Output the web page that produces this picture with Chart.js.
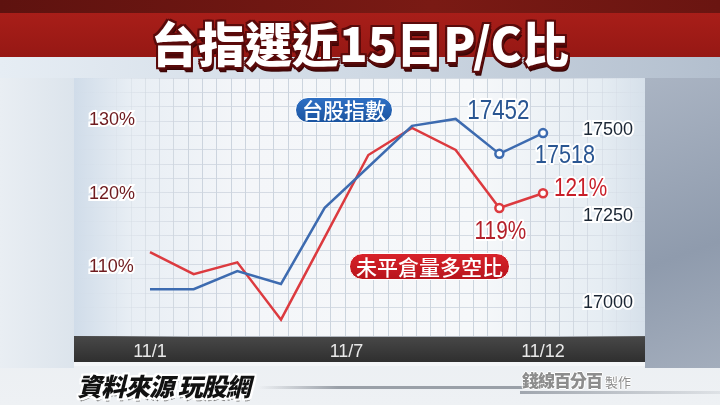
<!DOCTYPE html>
<html><head><meta charset="utf-8">
<script src="https://cdn.jsdelivr.net/npm/chart.js@4.4.1/dist/chart.umd.min.js"></script>
<style>
html,body{margin:0;padding:0;width:720px;height:405px;overflow:hidden;}
body{position:relative;background:linear-gradient(180deg,#dfe5ec 0%,#eef1f4 100%);font-family:"Noto Sans CJK TC",sans-serif;}
.abs{position:absolute;}
#topstrip{left:0;top:0;width:720px;height:14px;background:linear-gradient(90deg,#5e120f,#7a1a14 60%,#6a1511);}
#band{left:0;top:13px;width:720px;height:44px;background:linear-gradient(180deg,#a81e19,#961814);}
#sub{left:0;top:57px;width:720px;height:21px;background:linear-gradient(90deg,#e6edf4,#cfd9e4 50%,#b3bfce);}
#leftbg{left:0;top:78px;width:74px;height:290px;background:linear-gradient(90deg,#e9eef3,#dce4ec);}
#rightbg{left:645px;top:78px;width:75px;height:290px;background:linear-gradient(160deg,#aab4c3,#8f9bad 60%,#a3adbc);}
#panel{left:74px;top:78px;width:571px;height:258px;background:linear-gradient(90deg,#d0dce9 0%,#e8eef4 10%,#f4f6f9 30%,#f6f8fa 70%,#e6edf3 92%,#d6e0ea 100%);}
#xband{left:74px;top:336px;width:571px;height:26px;background:linear-gradient(180deg,#484848,#2f2f2f);}
#under{left:74px;top:362px;width:571px;height:4px;background:#f4f6f8;}
#line1{left:258px;top:386px;width:267px;height:3px;background:linear-gradient(90deg,rgba(150,156,164,0),#9aa0a8 30%,#9aa0a8);}
#line2{left:520px;top:391px;width:200px;height:3px;background:linear-gradient(90deg,#a0a6ae,rgba(160,166,174,0.2));}
canvas{position:absolute;left:0;top:0;}
#title{left:0;top:13px;width:720px;text-align:center;font-size:47px;font-weight:900;color:#fff;line-height:58px;letter-spacing:0px;
 text-shadow:-2px 0 #5a0b0b,2px 0 #5a0b0b,0 -2px #5a0b0b,0 2px #5a0b0b,-2px -2px #5a0b0b,2px -2px #5a0b0b,-2px 2px #5a0b0b,2px 2px #5a0b0b,1px 4px #4a0808,2px 5px #3a0606;}
.pill{position:absolute;color:#fff;text-align:center;border-radius:14px;border:1.5px solid #fff;box-sizing:border-box;font-weight:500;}
#pillB{left:295px;top:97px;width:98px;height:26px;line-height:23px;font-size:21px;background:linear-gradient(180deg,#2f70c4,#1a54a0);}
#pillR{left:349px;top:253px;width:161px;height:27px;line-height:24px;font-size:21px;background:linear-gradient(180deg,#d8222a,#b8141c);}
#src{left:77px;top:367px;font-size:25px;font-weight:900;font-style:italic;color:#111;letter-spacing:-1px;
 text-shadow:-2px 0 #fff,2px 0 #fff,0 -2px #fff,0 2px #fff,-2px -2px #fff,2px -2px #fff,-2px 2px #fff,2px 2px #fff,1px 3px #777;}
#logo{left:522px;top:367px;color:#8d8d8d;font-weight:900;font-size:17px;letter-spacing:-1px;
 text-shadow:-1px 0 #fff,1px 0 #fff,0 -1px #fff,0 1px #fff;}
#logo span{font-size:13px;font-weight:400;letter-spacing:0;margin-left:3px;}
</style></head>
<body>
<div id="topstrip" class="abs"></div>
<div id="band" class="abs"></div>
<div id="sub" class="abs"></div>
<div id="leftbg" class="abs"></div>
<div id="rightbg" class="abs"></div>
<div id="panel" class="abs"></div>
<div id="xband" class="abs"></div>
<div id="under" class="abs"></div>
<div id="line1" class="abs"></div>
<div id="line2" class="abs"></div>
<canvas id="c" width="720" height="405"></canvas>
<div id="title" class="abs">台指選近15日P/C比</div>
<div id="pillB" class="pill">台股指數</div>
<div id="pillR" class="pill">未平倉量多空比</div>
<div id="src" class="abs">資料來源 玩股網</div>
<div id="logo" class="abs">錢線百分百<span>製作</span></div>
<script>
// ---- data ----
const xIndex = [0, 1, 2, 3, 4, 5, 6, 7, 8, 9];
const taiexValues = [17040, 17040, 17092, 17055, 17275, 17393, 17512, 17532, 17431, 17491];
const pcRatioValues = [112.1, 109.1, 110.7, 102.9, 114.1, 125.3, 129.0, 126.0, 118.1, 120.1];
const xTickPositions = [0, 4.5, 9];
const xTickLabels = ['11/1', '11/7', '11/12'];
const leftTicks = [110, 120, 130];
const rightTicks = [17000, 17250, 17500];
const seriesNames = ['台股指數', '未平倉量多空比'];
const annotationTexts = ['17452', '17518', '119%', '121%'];

const BLUE = '#3d6bb0', RED = '#dc3a3f';
const markerFrom = 8;

const annotations = [
  {ds: 0, i: 8, text: annotationTexts[0], dx: -1, dy: -42, color: '#2a5692', size: 27, align: 'center'},
  {ds: 0, i: 9, text: annotationTexts[1], dx: 22, dy: 23, color: '#2a5692', size: 26, align: 'center'},
  {ds: 1, i: 8, text: annotationTexts[2], dx: 1, dy: 24, color: '#b3202a', size: 25, align: 'center'},
  {ds: 1, i: 9, text: annotationTexts[3], dx: 11, dy: -4, color: '#c81e28', size: 25, align: 'left'}
];

const annotationPlugin = {
  id: 'annot',
  afterDatasetsDraw(chart) {
    const ctx = chart.ctx;
    annotations.forEach(a => {
      const el = chart.getDatasetMeta(a.ds).data[a.i];
      ctx.save();
      ctx.translate(el.x + a.dx, el.y + a.dy);
      ctx.scale(0.83, 1);
      ctx.font = a.size + 'px "Liberation Sans", Arial, sans-serif';
      ctx.textAlign = a.align;
      ctx.textBaseline = 'middle';
      ctx.lineJoin = 'round';
      ctx.lineWidth = 4;
      ctx.strokeStyle = '#ffffff';
      ctx.strokeText(a.text, 0, 0);
      ctx.fillStyle = a.color;
      ctx.fillText(a.text, 0, 0);
      ctx.restore();
    });
  }
};

function fadeX(v) {
  const f = v / 40;
  let a = 1;
  if (f < 0.2) a = Math.max(0, (f - 0.05) / 0.15);
  if (f > 0.85) a = Math.max(0, (0.98 - f) / 0.13);
  return 'rgba(200,208,218,' + (a * 0.9).toFixed(3) + ')';
}
let hGrad = null;
function fadeH(c) {
  const ch = c.chart, area = ch.chartArea;
  if (!area) return 'rgba(205,212,222,0.6)';
  if (!hGrad) {
    hGrad = ch.ctx.createLinearGradient(area.left, 0, area.right, 0);
    hGrad.addColorStop(0, 'rgba(205,212,222,0)');
    hGrad.addColorStop(0.07, 'rgba(205,212,222,0.15)');
    hGrad.addColorStop(0.2, 'rgba(205,212,222,0.8)');
    hGrad.addColorStop(0.85, 'rgba(205,212,222,0.8)');
    hGrad.addColorStop(1, 'rgba(205,212,222,0.1)');
  }
  return hGrad;
}

new Chart(document.getElementById('c'), {
  type: 'line',
  data: {
    datasets: [
      {
        label: seriesNames[0],
        data: xIndex.map((x, k) => ({x: x, y: taiexValues[k]})),
        yAxisID: 'yR',
        borderColor: BLUE,
        borderWidth: 2.5,
        tension: 0,
        pointRadius: c => c.dataIndex >= markerFrom ? 4 : 0,
        pointBackgroundColor: '#ffffff',
        pointBorderColor: BLUE,
        pointBorderWidth: 2.5
      },
      {
        label: seriesNames[1],
        data: xIndex.map((x, k) => ({x: x, y: pcRatioValues[k]})),
        yAxisID: 'yL',
        borderColor: RED,
        borderWidth: 2.5,
        tension: 0,
        pointRadius: c => c.dataIndex >= markerFrom ? 4 : 0,
        pointBackgroundColor: '#ffffff',
        pointBorderColor: RED,
        pointBorderWidth: 2.5
      }
    ]
  },
  options: {
    responsive: false,
    animation: false,
    devicePixelRatio: 1,
    layout: {padding: {left: 44, right: 75, top: 78, bottom: 37.4}},
    plugins: {legend: {display: false}, tooltip: {enabled: false}},
    scales: {
      x: {
        type: 'linear', position: 'bottom',
        min: -1.74, max: 11.335,
        afterBuildTicks: s => { s.ticks = xTickPositions.map(v => ({value: v})); },
        grid: {display: false, drawTicks: false},
        border: {display: false},
        ticks: {
          autoSkip: false, maxRotation: 0, padding: 5,
          color: '#e8e8e8',
          font: {family: '"Liberation Sans", Arial, sans-serif', size: 18},
          callback: (v, i) => xTickLabels[i]
        }
      },
      gx: {
        type: 'linear', position: 'bottom', min: 0, max: 40,
        afterBuildTicks: s => { const t = []; for (let v = 0; v <= 40; v++) t.push({value: v}); s.ticks = t; },
        grid: {drawTicks: false, color: c => fadeX(c.tick.value), lineWidth: 1},
        border: {display: false},
        ticks: {display: false}
      },
      gy: {
        type: 'linear', position: 'left', min: 0, max: 18,
        afterBuildTicks: s => { const t = []; for (let v = 0; v <= 18; v++) t.push({value: v}); s.ticks = t; },
        grid: {drawTicks: false, color: fadeH, lineWidth: 1},
        border: {display: false},
        ticks: {display: false}
      },
      yL: {
        type: 'linear', position: 'left',
        min: 100.68, max: 135.78,
        afterBuildTicks: s => { s.ticks = leftTicks.map(v => ({value: v})); },
        grid: {display: false, drawTicks: false},
        border: {display: false},
        ticks: {
          mirror: true, padding: 15,
          color: '#6e1a1e',
          textStrokeColor: '#ffffff', textStrokeWidth: 4,
          font: {family: '"Liberation Sans", Arial, sans-serif', size: 18},
          callback: v => v + '%'
        }
      },
      yR: {
        type: 'linear', position: 'right',
        min: 16904.6, max: 17650.3,
        afterBuildTicks: s => { s.ticks = rightTicks.map(v => ({value: v})); },
        afterFit: s => { s.width = 0; },
        grid: {display: false, drawTicks: false},
        border: {display: false},
        ticks: {
          mirror: true, padding: -12,
          color: '#1b2634',
          textStrokeColor: '#ffffff', textStrokeWidth: 4,
          font: {family: '"Liberation Sans", Arial, sans-serif', size: 18},
          callback: v => String(v)
        }
      }
    }
  },
  plugins: [annotationPlugin]
});
</script>
</body></html>
